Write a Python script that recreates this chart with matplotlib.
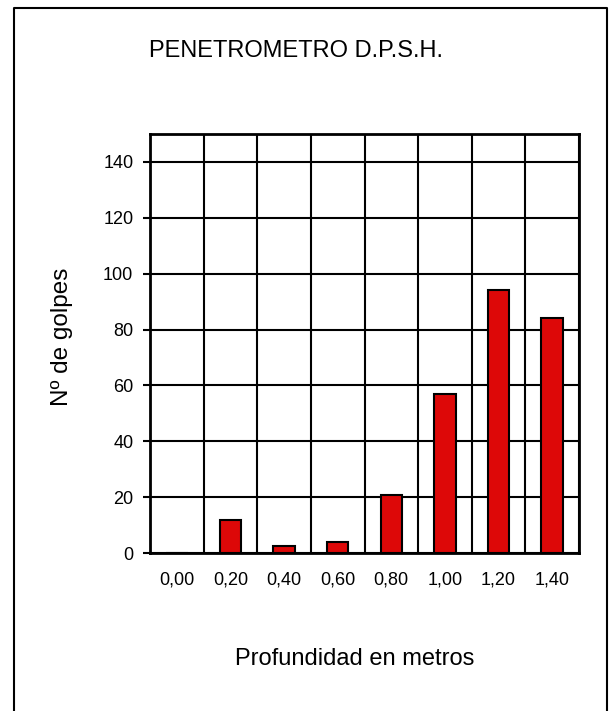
import numpy as np
import matplotlib
matplotlib.use("Agg")
import matplotlib.pyplot as plt
from matplotlib.lines import Line2D

# Datos del ensayo
profundidades = ["0,00", "0,20", "0,40", "0,60", "0,80", "1,00", "1,20", "1,40"]
golpes = [0, 12, 2.5, 4, 21, 57, 94, 84]
yticks = [0, 20, 40, 60, 80, 100, 120, 140]

plt.rcParams['font.family'] = ['Liberation Sans', 'DejaVu Sans']

fig = plt.figure(figsize=(6.16, 7.11), dpi=100)
ax = fig.add_axes([150/616, 1-553.3/711, 429/616, (553.3-133.7)/711])

x = np.arange(len(profundidades))
ax.bar(x, golpes, width=0.4, color="#dd0808", edgecolor="black", linewidth=1.5, zorder=3)

ax.set_xlim(-0.5, len(profundidades) - 0.5)
ax.set_ylim(0, 150)
ax.set_xticks(x)
ax.set_xticklabels(profundidades, fontsize=13)
ax.set_xticks(np.arange(-0.5, len(profundidades)), minor=True)
ax.set_yticks(yticks)
ax.set_yticklabels([str(v) for v in yticks], fontsize=13)
ax.tick_params(axis="x", which="both", length=0, pad=13)
ax.tick_params(axis="y", length=5, width=1.5, pad=7)
ax.grid(True, axis="y", which="major", color="black", linewidth=1.5, zorder=1)
ax.grid(True, axis="x", which="minor", color="black", linewidth=1.5, zorder=1)
for s in ax.spines.values():
    s.set_linewidth(2)

fig.text(296/616, 1-57/711, "PENETROMETRO D.P.S.H.", fontsize=17, ha="center", va="baseline")
fig.text(355/616, 1-665/711, "Profundidad en metros", fontsize=17, ha="center", va="baseline")
fig.text(62/616, 1-337/711, "Nº de golpes", fontsize=17.5, ha="center", va="center", rotation=90)

# Marco exterior
x0, x1, y0 = 14/616, 607/616, 1-8/711
fig.add_artist(Line2D([x0, x0, x1, x1], [0, y0, y0, 0], color="black", linewidth=1.5,
                      transform=fig.transFigure))

fig.savefig("out.png", dpi=100)
